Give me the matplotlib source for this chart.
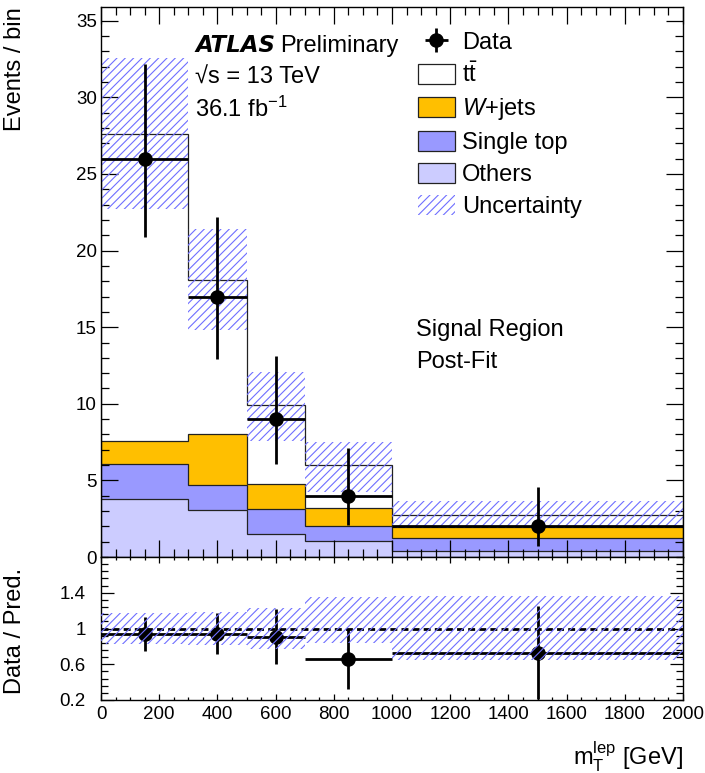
import matplotlib.pyplot as plt
import numpy as np
from matplotlib.patches import Patch
from matplotlib.ticker import MultipleLocator

plt.rcParams.update({
    "font.family": "Liberation Sans",
    "mathtext.fontset": "custom",
    "mathtext.rm": "Liberation Sans",
    "mathtext.it": "Liberation Sans:italic",
    "mathtext.bf": "Liberation Sans:bold",
    "hatch.linewidth": 0.8,
    "axes.linewidth": 1.0,
})

# binning and values
edges = np.array([0, 300, 500, 700, 1000, 2000])
data = np.array([26, 17, 9, 4, 2])
data_err_lo = np.array([5.1, 4.1, 2.9, 1.9, 1.3])
data_err_hi = np.array([6.2, 5.2, 4.1, 3.1, 2.6])

others = np.array([3.8, 3.1, 1.5, 1.05, 0.4])
single_top = np.array([2.25, 1.6, 1.65, 0.95, 0.85])
wjets = np.array([1.55, 3.3, 1.6, 1.2, 0.7])
ttbar = np.array([20.0, 10.1, 5.15, 2.8, 0.8])

band_lo = np.array([22.7, 14.8, 7.6, 4.25, 1.9])
band_hi = np.array([32.6, 21.4, 12.1, 7.5, 3.65])

ratio = np.array([0.94, 0.94, 0.91, 0.66, 0.73])
ratio_err = np.array([0.19, 0.23, 0.31, 0.34, 0.52])
ratio_band_lo = np.array([0.83, 0.81, 0.77, 0.84, 0.65])
ratio_band_hi = np.array([1.17, 1.19, 1.23, 1.35, 1.36])

c_others, c_single, c_wjets = "#CCCCFF", "#9999FF", "#FFBF00"
c_hatch = "#6F6FFF"
c_edge = "#222222"
fs = 17
tfs = 13.5

centers = 0.5 * (edges[:-1] + edges[1:])
widths = np.diff(edges)
xerr = [centers - edges[:-1], edges[1:] - centers]

fig = plt.figure(figsize=(7.05, 7.73), dpi=100)
ax = fig.add_axes([101/705, 1-557/773, 582/705, 550/773])
rax = fig.add_axes([101/705, 1-700/773, 582/705, 143/773])

## stacked backgrounds (cumulative, drawn from the top down)
cum1 = others
cum2 = cum1 + single_top
cum3 = cum2 + wjets
cum4 = cum3 + ttbar
for z, (top, col) in enumerate([(cum4, "white"), (cum3, c_wjets),
                                (cum2, c_single), (cum1, c_others)]):
    ax.stairs(top, edges, baseline=0, fill=True, facecolor=col,
              edgecolor=c_edge, lw=0.9, zorder=1 + 0.1*z)

ax.bar(centers, band_hi - band_lo, width=widths, bottom=band_lo,
       facecolor="none", edgecolor=c_hatch, lw=0, hatch="////", zorder=2)

dat = ax.errorbar(centers, data, yerr=[data_err_lo, data_err_hi], xerr=xerr,
                  fmt="o", color="k", ms=9.5, elinewidth=2, capsize=0, zorder=5)

ax.set_xlim(0, 2000)
ax.set_ylim(0, 35.9)
ax.xaxis.set_major_locator(MultipleLocator(200))
ax.xaxis.set_minor_locator(MultipleLocator(50))
ax.yaxis.set_major_locator(MultipleLocator(5))
ax.yaxis.set_minor_locator(MultipleLocator(1))
ax.tick_params(which="both", direction="in", top=True, right=True, width=0.9)
ax.tick_params(which="major", length=12)
ax.tick_params(which="minor", length=6)
ax.tick_params(axis="x", labelbottom=False)
ax.tick_params(axis="y", labelsize=tfs, pad=3)

ax.text(0.1615, 0.918, "ATLAS", transform=ax.transAxes, fontsize=fs - 0.5,
        family="DejaVu Sans", fontweight="bold", fontstyle="italic", va="baseline")
ax.text(0.3076, 0.918, "Preliminary", transform=ax.transAxes, fontsize=fs, va="baseline")
ax.text(0.1615, 0.86, "\u221as = 13 TeV", transform=ax.transAxes, fontsize=fs, va="baseline")
ax.text(0.1615, 0.80, "36.1 fb$^{-1}$", transform=ax.transAxes, fontsize=fs, va="baseline")
ax.text(0.541, 0.4018, "Signal Region", transform=ax.transAxes, fontsize=fs, va="baseline")
ax.text(0.541, 0.3436, "Post-Fit", transform=ax.transAxes, fontsize=fs, va="baseline")

handles = [
    dat,
    Patch(facecolor="white", edgecolor=c_edge, lw=0.9),
    Patch(facecolor=c_wjets, edgecolor=c_edge, lw=0.9),
    Patch(facecolor=c_single, edgecolor=c_edge, lw=0.9),
    Patch(facecolor=c_others, edgecolor=c_edge, lw=0.9),
    Patch(facecolor="none", edgecolor=c_hatch, lw=0, hatch="////"),
]
labels = ["Data", r"$\mathrm{t\bar{t}}$", "$W$+jets", "Single top", "Others", "Uncertainty"]
ax.legend(handles, labels, loc="upper left", bbox_to_anchor=(0.5447, 0.957),
          frameon=False, fontsize=fs, handlelength=1.55, handleheight=0.95,
          labelspacing=0.37, handletextpad=0.3, borderpad=0, borderaxespad=0)

## ratio panel
rax.axhline(1, color="k", lw=2, ls=(0, (2.5, 1.5)), zorder=3)
rax.errorbar(centers, ratio, yerr=ratio_err, xerr=xerr, fmt="o", color="k",
             ms=9.5, elinewidth=2, capsize=0, zorder=4)
rax.bar(centers, ratio_band_hi - ratio_band_lo, width=widths, bottom=ratio_band_lo,
        facecolor="none", edgecolor=c_hatch, lw=0, hatch="////", zorder=6)

rax.set_xlim(0, 2000)
rax.set_ylim(0.2, 1.8)
rax.xaxis.set_major_locator(MultipleLocator(200))
rax.xaxis.set_minor_locator(MultipleLocator(50))
rax.set_yticks([0.2, 0.6, 1.0, 1.4])
rax.set_yticklabels(["0.2", "0.6", "1", "1.4"])
rax.set_yticks(np.arange(0.2, 1.81, 0.08), minor=True)
rax.tick_params(which="both", direction="in", top=True, right=True, width=0.9)
rax.tick_params(axis="y", which="major", length=9.5)
rax.tick_params(axis="y", which="minor", length=5)
rax.tick_params(axis="x", which="major", length=4.5)
rax.tick_params(axis="x", which="minor", length=2.5)
rax.tick_params(axis="y", labelsize=tfs, pad=11)
rax.tick_params(axis="x", labelsize=tfs, pad=4.5)

fig.text(15/705, 1-7/773, "Events / bin", rotation=90, ha="center", va="top", fontsize=fs)
fig.text(15/705, 1-631/773, "Data / Pred.", rotation=90, ha="center", va="center", fontsize=fs)
fig.text(683/705, 1-765/773, r"m$_{\mathrm{T}}^{\mathrm{lep}}$ [GeV]", ha="right",
         va="baseline", fontsize=fs)

fig.savefig("out.png", dpi=100)
